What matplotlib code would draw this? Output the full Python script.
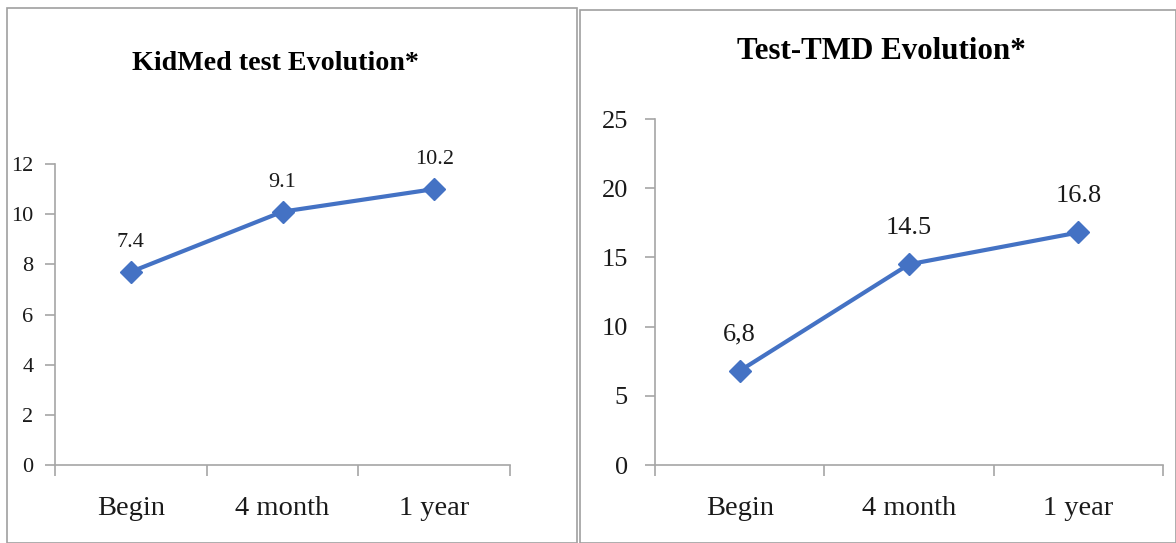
import matplotlib
matplotlib.use("Agg")
import matplotlib.pyplot as plt
from matplotlib.patches import Rectangle

categories = ["Begin", "4 month", "1 year"]
kidmed_values = [7.7, 10.1, 11.0]
kidmed_labels = ["7.4", "9.1", "10.2"]
tmd_values = [6.8, 14.5, 16.8]
tmd_labels = ["6,8", "14.5", "16.8"]

W, H = 1176, 543
fig = plt.figure(figsize=(W / 100, H / 100), dpi=100)
plt.rcParams['font.family'] = ['Liberation Serif', 'DejaVu Serif']

LINE = "#4472C4"
AX = "#a6a6a6"

def px_axes(x0, x1, y0, y1):
    return fig.add_axes([x0 / W, (H - y0) / H, (x1 - x0) / W, (y0 - y1) / H])

fig.patches.append(Rectangle((7 / W, 0), (577 - 7) / W, (H - 8) / H,
                             transform=fig.transFigure, fill=False,
                             edgecolor="#a0a0a0", linewidth=1.2))
fig.patches.append(Rectangle((580 / W, 0), (1176 - 580) / W, (H - 10) / H,
                             transform=fig.transFigure, fill=False,
                             edgecolor="#a0a0a0", linewidth=1.2))

def draw(ax, values, labels, ymax, ystep, ytick_fs, ypad, dlabel_fs, dlabel_off):
    x = [i + 0.5 for i in range(len(categories))]
    ax.plot(x, values, color=LINE, linewidth=3, marker="D", markersize=11,
            markerfacecolor=LINE, markeredgecolor=LINE, zorder=3, clip_on=False)
    for xi, yi, lab in zip(x, values, labels):
        ax.annotate(lab, (xi, yi), xytext=(0, dlabel_off), textcoords="offset points",
                    ha="center", va="center", fontsize=dlabel_fs, color="#1a1a1a")
    ax.set_xlim(0, len(categories))
    ax.set_ylim(0, ymax)
    ax.set_yticks(range(0, ymax + 1, ystep))
    ax.set_xticks(range(0, len(categories) + 1))
    ax.set_xticklabels([])
    ax.set_xticks(x, minor=True)
    ax.set_xticklabels(categories, minor=True, fontsize=20.5, color="#1a1a1a")
    ax.tick_params(axis="x", which="minor", length=0, pad=22)
    ax.tick_params(axis="x", which="major", length=8, color=AX, width=1.2)
    ax.tick_params(axis="y", length=7, color=AX, width=1.2, labelsize=ytick_fs,
                   labelcolor="#1a1a1a", pad=ypad)
    for s in ["top", "right"]:
        ax.spines[s].set_visible(False)
    for s in ["left", "bottom"]:
        ax.spines[s].set_color(AX)
        ax.spines[s].set_linewidth(1.2)
    ax.patch.set_alpha(0)

ax1 = px_axes(55, 510, 465, 164)
draw(ax1, kidmed_values, kidmed_labels, 12, 2, 16, 8.5, 16, 21)
ax2 = px_axes(655, 1163, 465, 119)
draw(ax2, tmd_values, tmd_labels, 25, 5, 19, 12.5, 19, 26)

fig.text(275 / W, 1 - 70 / H, "KidMed test Evolution*", ha="center", va="baseline",
         fontsize=20.2, fontweight="bold", color="black")
fig.text(881 / W, 1 - 59 / H, "Test-TMD Evolution*", ha="center", va="baseline",
         fontsize=22.3, fontweight="bold", color="black")

fig.savefig("out.png", dpi=100, facecolor="white")
